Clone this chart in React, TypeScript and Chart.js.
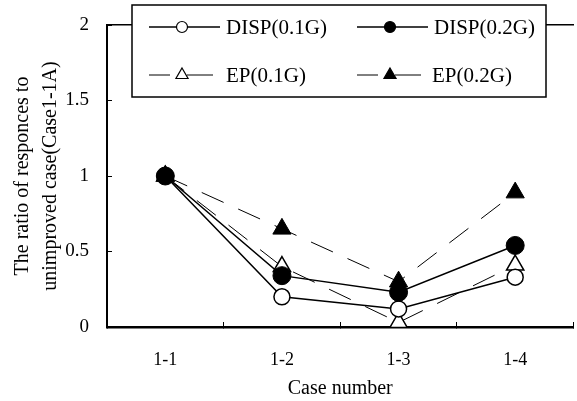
import React, { useEffect, useRef } from "react";
import { Chart, registerables } from "chart.js";

Chart.register(...registerables);

const categories = ["1-1", "1-2", "1-3", "1-4"];
const disp01 = [1, 0.2, 0.12, 0.33];
const disp02 = [1, 0.34, 0.23, 0.54];
const ep01 = [1, 0.4, 0.03, 0.41];
const ep02 = [1, 0.65, 0.3, 0.89];
const yTickLabels: Record<string, string> = { "0": "0", "0.5": "0.5", "1": "1", "1.5": "1.5", "2": "2" };
const seriesNames = ["DISP(0.1G)", "DISP(0.2G)", "EP(0.1G)", "EP(0.2G)"];

const FONT = "'Liberation Serif', 'Times New Roman', serif";
const DASH = [24, 16];

const legendPlugin = {
  id: "boxLegend",
  afterDraw(chart: any) {
    const ctx = chart.ctx as CanvasRenderingContext2D;
    ctx.save();
    const bx = 132, by = 5, bw = 414, bh = 92;
    ctx.fillStyle = "#fff";
    ctx.fillRect(bx, by, bw, bh);
    ctx.strokeStyle = "#000";
    ctx.lineWidth = 1.5;
    ctx.strokeRect(bx, by, bw, bh);

    const items = [
      { x: 149, y: 27, dashed: false, shape: "circle", filled: false, textX: 226 },
      { x: 357, y: 27, dashed: false, shape: "circle", filled: true, textX: 434 },
      { x: 149, y: 75, dashed: true, shape: "triangle", filled: false, textX: 226 },
      { x: 357, y: 75, dashed: true, shape: "triangle", filled: true, textX: 432 },
    ];
    items.forEach((it, i) => {
      ctx.strokeStyle = "#000";
      ctx.beginPath();
      if (!it.dashed) {
        ctx.lineWidth = 1.5;
        ctx.moveTo(it.x, it.y);
        ctx.lineTo(it.x + 71, it.y);
      } else {
        ctx.lineWidth = 1;
        ctx.moveTo(it.x, it.y);
        ctx.lineTo(it.x + 21, it.y);
        ctx.moveTo(it.x + 38, it.y);
        ctx.lineTo(it.x + 64, it.y);
      }
      ctx.stroke();
      const mx = it.x + 33;
      ctx.beginPath();
      if (it.shape === "circle") {
        ctx.arc(mx, it.y, 5.5, 0, Math.PI * 2);
      } else {
        const r = 7;
        ctx.moveTo(mx, it.y - r);
        ctx.lineTo(mx + r * 0.866, it.y + r * 0.5);
        ctx.lineTo(mx - r * 0.866, it.y + r * 0.5);
        ctx.closePath();
      }
      ctx.fillStyle = it.filled ? "#000" : "#fff";
      ctx.fill();
      ctx.lineWidth = 1.2;
      ctx.stroke();
      ctx.fillStyle = "#000";
      ctx.font = `21px ${FONT}`;
      ctx.textBaseline = "middle";
      ctx.textAlign = "left";
      ctx.fillText(seriesNames[i], it.textX, it.y + 1);
    });
    ctx.restore();
  },
};

export default function App() {
  const ref = useRef<HTMLCanvasElement>(null);
  useEffect(() => {
    if (!ref.current) return;
    const chart = new Chart(ref.current, {
      type: "line",
      data: {
        labels: categories,
        datasets: [
          {
            label: seriesNames[0], data: disp01, borderColor: "#000", borderWidth: 1.5,
            pointStyle: "circle", pointRadius: 8, pointBackgroundColor: "#fff", pointBorderColor: "#000",
            pointBorderWidth: 1.5, order: 2,
          },
          {
            label: seriesNames[1], data: disp02, borderColor: "#000", borderWidth: 1.5,
            pointStyle: "circle", pointRadius: 9, pointBackgroundColor: "#000", pointBorderColor: "#000",
            pointBorderWidth: 1, order: 1,
          },
          {
            label: seriesNames[2], data: ep01, borderColor: "#000", borderWidth: 1, borderDash: DASH,
            pointStyle: "triangle", pointRadius: 10, pointBackgroundColor: "#fff", pointBorderColor: "#000",
            pointBorderWidth: 1.5, order: 3,
          },
          {
            label: seriesNames[3], data: ep02, borderColor: "#000", borderWidth: 1, borderDash: DASH,
            pointStyle: "triangle", pointRadius: 10.5, pointBackgroundColor: "#000", pointBorderColor: "#000",
            pointBorderWidth: 1, order: 4,
          },
        ],
      },
      options: {
        responsive: false,
        animation: false,
        layout: { padding: { left: 0, right: 2, top: 25, bottom: 0 } },
        plugins: { legend: { display: false }, tooltip: { enabled: false } },
        scales: {
          x: {
            type: "category",
            offset: true,
            grid: { offset: true, drawOnChartArea: false, drawTicks: true, tickLength: -5, color: "#000", lineWidth: 1 },
            border: { display: true, color: "#000", width: 2.5 },
            ticks: { color: "#000", font: { family: FONT, size: 18 }, padding: 27 },
            title: { display: true, text: "Case number", color: "#000", font: { family: FONT, size: 20 }, padding: { top: 0, bottom: 0 } },
            afterFit: (s: any) => { s.height = 74; s.paddingLeft = 0; s.paddingRight = 0; },
          },
          x2: {
            type: "category",
            position: "top",
            grid: { display: false, drawTicks: false },
            border: { display: true, color: "#000", width: 1.5 },
            ticks: { display: false },
            afterFit: (s: any) => { s.height = 0; s.paddingLeft = 0; s.paddingRight = 0; },
          },
          y: {
            min: 0,
            max: 2,
            grid: { drawOnChartArea: false, drawTicks: true, tickLength: -5, color: "#000", lineWidth: 1 },
            border: { display: true, color: "#000", width: 2 },
            ticks: {
              stepSize: 0.5, color: "#000", font: { family: FONT, size: 19 }, padding: 23,
              callback: (v: any) => yTickLabels[String(v)] ?? String(v),
            },
            title: {
              display: true, text: ["The ratio of responces to", "unimproved case(Case1-1A)"], color: "#000",
              font: { family: FONT, size: 20, lineHeight: 1.38 }, padding: { top: 9, bottom: 0 },
            },
            afterFit: (s: any) => { s.width = 107; s.paddingTop = 0; s.paddingBottom = 0; },
          },
        },
      },
      plugins: [legendPlugin],
    });
    return () => chart.destroy();
  }, []);
  return (
    <div style={{ position: "fixed", left: 0, top: 0, width: 577, height: 401, overflow: "hidden", background: "#fff" }}>
      <canvas ref={ref} width={585} height={401} />
    </div>
  );
}
